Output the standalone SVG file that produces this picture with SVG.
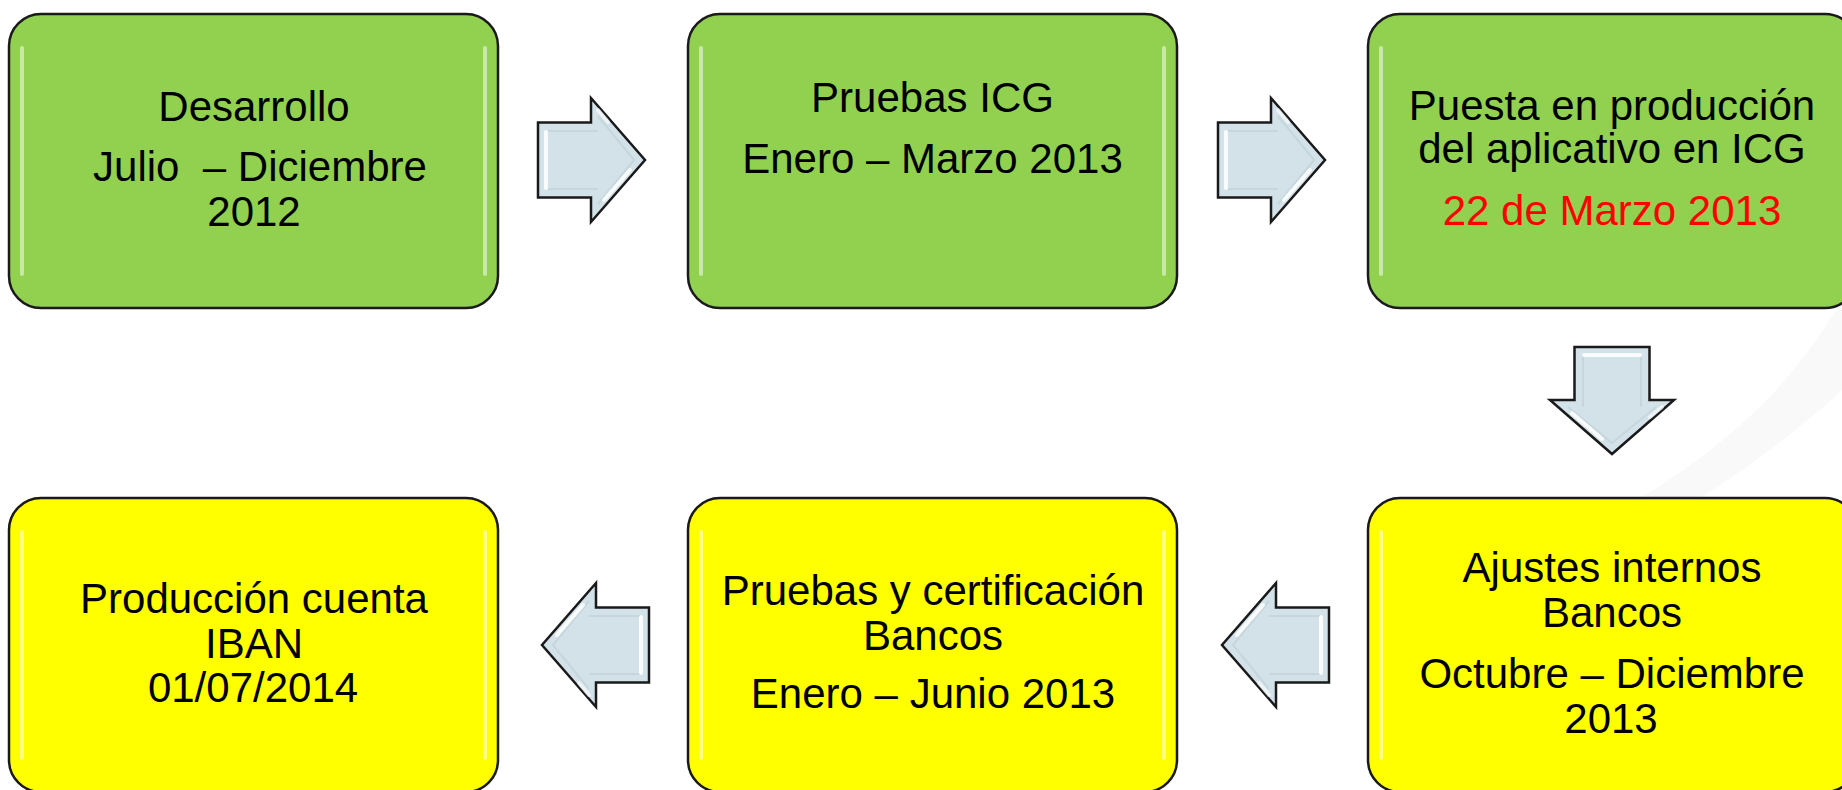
<svg xmlns="http://www.w3.org/2000/svg" xmlns:xlink="http://www.w3.org/1999/xlink" width="1842" height="790" viewBox="0 0 1842 790">
<style>
.box{stroke:#1a1a1a;stroke-width:2.5}
.green{fill:#92D050}
.yellow{fill:#FFFF00}
.hl{fill:none;stroke:#ffffff;stroke-width:4;stroke-linecap:round;opacity:0.5}
.t{font-family:"Liberation Sans",Arial,sans-serif;font-size:42px;fill:#000;text-anchor:middle}
.red{fill:#FF0000}
.arrow{fill:#D3E2E8;stroke:#1a1a1a;stroke-width:2.5;stroke-linejoin:miter}
.bev{fill:none;stroke:#ffffff;stroke-width:4;stroke-linecap:round;opacity:0.85}
.bev2{fill:none;stroke:#c2d3da;stroke-width:2;opacity:0.8}
</style>
<defs>
<g id="arrowShape">
<path class="arrow" d="M0,-37.5 H53 V-62 L107,0 L53,62 V37.5 H0 Z"/>
<path class="bev2" d="M9,-29 H60 M60,-44 L96,0 L60,44 M9,29 H60"/>
<path class="bev" d="M8,-28 V28"/>
<path class="bev" d="M66,40 L92,10"/>
<path class="bev" d="M60,-50 L70,-38" style="opacity:0.6"/>
</g>
</defs>
<rect width="1842" height="790" fill="#ffffff"/>
<path d="M1842,300 C1790,390 1720,450 1640,498 L1700,498 C1760,460 1810,420 1842,390 Z" fill="#f9f9f9"/>
<g id="node-desarrollo">
<rect class="box green" x="9" y="14" width="489" height="294" rx="32"/>
<path class="hl" d="M22,48 V274 M485,48 V274"/>
<text class="t" x="254" y="121">Desarrollo</text>
<text class="t" x="260" y="181" xml:space="preserve">Julio  – Diciembre</text>
<text class="t" x="254" y="226">2012</text>
</g>
<g id="node-pruebas-icg">
<rect class="box green" x="688" y="14" width="489" height="294" rx="32"/>
<path class="hl" d="M701,48 V274 M1164,48 V274"/>
<text class="t" x="932.5" y="112">Pruebas ICG</text>
<text class="t" x="932.5" y="173">Enero – Marzo 2013</text>
</g>
<g id="node-puesta-produccion">
<rect class="box green" x="1368" y="14" width="489" height="294" rx="32"/>
<path class="hl" d="M1381,48 V274"/>
<text class="t" x="1612" y="120">Puesta en producción</text>
<text class="t" x="1612" y="163">del aplicativo en ICG</text>
<text class="t red" x="1612" y="225">22 de Marzo 2013</text>
</g>
<g id="node-ajustes">
<rect class="box yellow" x="1368" y="498" width="489" height="294" rx="32"/>
<path class="hl" d="M1381,532 V758"/>
<text class="t" x="1612" y="582">Ajustes internos</text>
<text class="t" x="1612" y="627">Bancos</text>
<text class="t" x="1612" y="688">Octubre – Diciembre</text>
<text class="t" x="1611" y="733">2013</text>
</g>
<g id="node-pruebas-bancos">
<rect class="box yellow" x="688" y="498" width="489" height="294" rx="32"/>
<path class="hl" d="M701,532 V758 M1164,532 V758"/>
<text class="t" x="933" y="605">Pruebas y certificación</text>
<text class="t" x="933" y="650">Bancos</text>
<text class="t" x="933" y="708">Enero – Junio 2013</text>
</g>
<g id="node-produccion-iban">
<rect class="box yellow" x="9" y="498" width="489" height="294" rx="32"/>
<path class="hl" d="M22,532 V758 M485,532 V758"/>
<text class="t" x="254" y="613">Producción cuenta</text>
<text class="t" x="254" y="658">IBAN</text>
<text class="t" x="253" y="702">01/07/2014</text>
</g>
<g id="connectors">
<use xlink:href="#arrowShape" transform="translate(538,160)"/>
<use xlink:href="#arrowShape" transform="translate(1218,160)"/>
<use xlink:href="#arrowShape" transform="translate(1612,347) rotate(90)"/>
<use xlink:href="#arrowShape" transform="translate(1329,645) rotate(180)"/>
<use xlink:href="#arrowShape" transform="translate(649,645) rotate(180)"/>
</g>
</svg>
